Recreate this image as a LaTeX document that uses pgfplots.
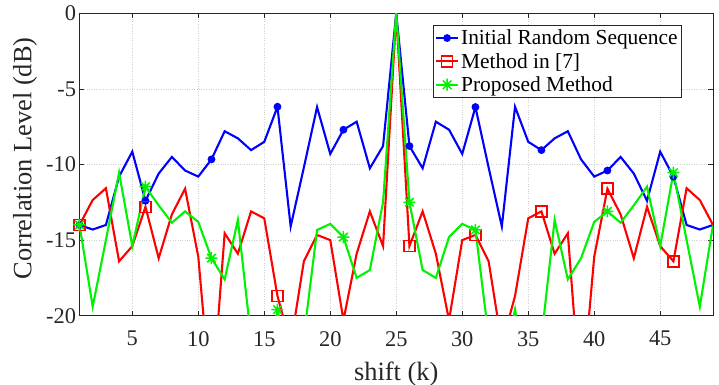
\documentclass[border=0pt]{standalone}
\usepackage{fontspec}
\setmainfont{Liberation Serif}
\usepackage{pgfplots}
\pgfplotsset{compat=1.18}
\definecolor{mblue}{rgb}{0,0,1}
\definecolor{mred}{rgb}{1,0,0}
\definecolor{mgreen}{rgb}{0,0.95,0}
\definecolor{maxis}{rgb}{0.15,0.15,0.15}
\pgfdeclareplotmark{mstar}{%
 \pgfpathmoveto{\pgfqpoint{-\pgfplotmarksize}{0pt}}\pgfpathlineto{\pgfqpoint{\pgfplotmarksize}{0pt}}%
 \pgfpathmoveto{\pgfqpoint{0pt}{-\pgfplotmarksize}}\pgfpathlineto{\pgfqpoint{0pt}{\pgfplotmarksize}}%
 \pgfpathmoveto{\pgfqpoint{-.7071\pgfplotmarksize}{-.7071\pgfplotmarksize}}\pgfpathlineto{\pgfqpoint{.7071\pgfplotmarksize}{.7071\pgfplotmarksize}}%
 \pgfpathmoveto{\pgfqpoint{-.7071\pgfplotmarksize}{.7071\pgfplotmarksize}}\pgfpathlineto{\pgfqpoint{.7071\pgfplotmarksize}{-.7071\pgfplotmarksize}}%
 \pgfusepathqstroke}
\begin{document}
\begin{tikzpicture}
\path[use as bounding box] (-79.5bp,-69.3bp) rectangle (639.5bp,315.7bp);
\begin{axis}[
 at={(0,0)}, anchor=south west,
 scale only axis, width=633.5bp, height=302.4bp,
 xmin=1, xmax=49, ymin=-20, ymax=0,
 xtick={5,10,...,45}, ytick={-20,-15,...,0},
 tick align=inside, major tick length=5bp,
 grid=major, grid style={dotted, black!18, line width=0.5bp},
 axis line style={maxis, line width=0.7bp},
 tick style={maxis, line width=0.6bp},
 /pgf/number format/assume math mode=true,
 ticklabel style={font=\fontsize{22.5}{24}\selectfont, text=black!85},
 xticklabel style={yshift=-12bp},
 xlabel={shift (k)}, ylabel={Correlation Level (dB)},
 every axis x label/.style={at={(axis description cs:0.5,0)}, anchor=center, yshift=-58bp, font=\fontsize{26.5}{28}\selectfont, text=black!85},
 every axis y label/.style={at={(axis description cs:-0.086,0.52)}, anchor=center, rotate=90, font=\fontsize{26.5}{28}\selectfont, text=black!85},
 legend style={at={(0.951,0.961)}, anchor=north east, font=\fontsize{21.5}{22}\selectfont, draw=maxis, fill=white, line width=0.6bp, inner xsep=2bp, inner ysep=2.5bp, row sep=3bp},
 legend cell align=left,
 legend image code/.code={\draw[mark indices={2}] plot coordinates {(0bp,0bp) (11bp,0bp) (22bp,0bp)};},
 every axis plot/.append style={line width=2.1bp},
]
% Initial Random Sequence
\addplot[mblue, mark=*, mark size=2.8bp, mark options={fill=mblue, solid}, mark indices={500}] coordinates {
(1,-14.0) (2,-14.3) (3,-14.0) (4,-10.8) (5,-9.15) (6,-12.4) (7,-10.6) (8,-9.5) (9,-10.4) (10,-10.8)
(11,-9.66) (12,-7.8) (13,-8.27) (14,-9.05) (15,-8.5) (16,-6.18) (17,-14.1) (18,-10.2) (19,-6.2) (20,-9.3)
(21,-7.7) (22,-7.17) (23,-10.25) (24,-8.78) (25,0)
(26,-8.78) (27,-10.25) (28,-7.17) (29,-7.7) (30,-9.3) (31,-6.2) (32,-10.2) (33,-14.1) (34,-6.18) (35,-8.5)
(36,-9.05) (37,-8.27) (38,-7.8) (39,-9.66) (40,-10.8) (41,-10.4) (42,-9.5) (43,-10.6) (44,-12.4) (45,-9.15)
(46,-10.8) (47,-14.0) (48,-14.3) (49,-14.0)};
\addlegendentry{Initial Random Sequence}
% Method in [7]
\addplot[mred, mark=square, mark size=5.5bp, mark options={solid, line width=1.5bp}, mark indices={500}] coordinates {
(1,-14.0) (2,-12.35) (3,-11.57) (4,-16.4) (5,-15.4) (6,-12.8) (7,-16.2) (8,-13.3) (9,-11.6) (10,-16.1)
(11,-26) (12,-14.55) (13,-15.9) (14,-13.1) (15,-13.56) (16,-18.7) (17,-21.9) (18,-16.4) (19,-14.66) (20,-15.0)
(21,-20.3) (22,-15.9) (23,-13.1) (24,-15.4) (25,0)
(26,-15.4) (27,-13.1) (28,-15.9) (29,-20.3) (30,-15.0) (31,-14.66) (32,-16.4) (33,-21.9) (34,-18.7) (35,-13.56)
(36,-13.1) (37,-15.9) (38,-14.55) (39,-26) (40,-16.1) (41,-11.6) (42,-13.3) (43,-16.2) (44,-12.8) (45,-15.4)
(46,-16.4) (47,-11.57) (48,-12.35) (49,-14.0)};
\addlegendentry{Method in [7]}
% Proposed Method
\addplot[mgreen, mark=mstar, mark size=6bp, mark options={solid, line width=1.5bp}, mark indices={500}] coordinates {
(1,-14.0) (2,-19.4) (3,-15.0) (4,-10.54) (5,-15.4) (6,-11.47) (7,-12.7) (8,-13.85) (9,-13.1) (10,-13.8)
(11,-16.2) (12,-17.6) (13,-13.67) (14,-21.5) (15,-25) (16,-19.6) (17,-24) (18,-21.4) (19,-14.33) (20,-13.93)
(21,-14.8) (22,-17.5) (23,-16.98) (24,-12.5) (25,0)
(26,-12.5) (27,-16.98) (28,-17.5) (29,-14.8) (30,-13.93) (31,-14.33) (32,-21.4) (33,-24) (34,-19.6) (35,-25)
(36,-21.5) (37,-13.67) (38,-17.6) (39,-16.2) (40,-13.8) (41,-13.1) (42,-13.85) (43,-12.7) (44,-11.47) (45,-15.4)
(46,-10.54) (47,-15.0) (48,-19.4) (49,-14.0)};
\addlegendentry{Proposed Method}
% markers (every 5th sample)
\addplot[forget plot, only marks, mblue, mark=*, mark size=2.8bp, mark options={fill=mblue, solid}] coordinates {
(1,-14.0) (6,-12.4) (11,-9.66) (16,-6.18) (21,-7.7) (26,-8.78) (31,-6.2) (36,-9.05) (41,-10.4) (46,-10.8)};
\addplot[forget plot, only marks, mred, mark=square, mark size=5.5bp, mark options={solid, line width=1.5bp}] coordinates {
(1,-14.0) (6,-12.8) (16,-18.7) (26,-15.4) (31,-14.66) (36,-13.1) (41,-11.6) (46,-16.4)};
\addplot[forget plot, only marks, mgreen, mark=mstar, mark size=6bp, mark options={solid, line width=1.5bp}] coordinates {
(1,-14.0) (6,-11.47) (11,-16.2) (16,-19.6) (21,-14.8) (26,-12.5) (31,-14.33) (41,-13.1) (46,-10.54)};
\end{axis}
\end{tikzpicture}
\end{document}
